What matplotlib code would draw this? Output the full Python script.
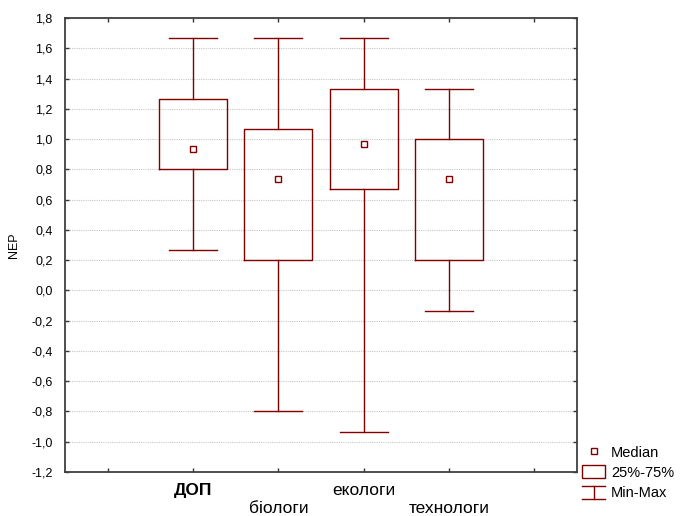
import numpy as np
import matplotlib as mpl
mpl.use('Agg')
import matplotlib.pyplot as plt
from matplotlib.lines import Line2D
from matplotlib.patches import Rectangle
from matplotlib.legend_handler import HandlerBase
from matplotlib.ticker import FuncFormatter, FixedLocator

plt.rcParams['font.family'] = ['Liberation Sans', 'DejaVu Sans']

# Data (NEP by group)
groups = ['ДОП', 'біологи', 'екологи', 'технологи']
positions = [2, 3, 4, 5]
q_min = [0.267, -0.800, -0.933, -0.133]
q1 = [0.800, 0.200, 0.667, 0.200]
median = [0.933, 0.733, 0.967, 0.733]
q3 = [1.267, 1.067, 1.333, 1.000]
q_max = [1.667, 1.667, 1.667, 1.333]

dark_red = '#800000'
lw = 1.0

fig = plt.figure(figsize=(6.8, 5.16), dpi=100)
ax = fig.add_axes([65 / 680, 1 - 472 / 516, 512 / 680, 454 / 516])

stats = []
for i in range(len(groups)):
    stats.append(dict(label=groups[i], med=median[i], q1=q1[i], q3=q3[i],
                      whislo=q_min[i], whishi=q_max[i], fliers=[]))

ax.bxp(stats, positions=positions, widths=0.8, capwidths=0.56,
       showfliers=False, manage_ticks=False,
       boxprops=dict(color=dark_red, linewidth=lw),
       whiskerprops=dict(color=dark_red, linewidth=lw),
       capprops=dict(color=dark_red, linewidth=lw),
       medianprops=dict(linewidth=0))
ax.plot(positions, median, linestyle='none', marker='s', markersize=4,
        markerfacecolor='white', markeredgecolor=dark_red, markeredgewidth=1.0)

# axes, ticks, grid
ax.set_xlim(0.5, 6.5)
ax.set_ylim(-1.2, 1.8)
ax.yaxis.set_major_locator(FixedLocator(np.arange(-1.2, 1.81, 0.2)))
ax.yaxis.set_major_formatter(FuncFormatter(lambda v, p: '{0:.1f}'.format(v).replace('.', ',').replace('-0,0', '0,0')))
ax.set_xticks([1, 2, 3, 4, 5, 6])
ax.set_xticklabels(['', groups[0], '\n' + groups[1], groups[2], '\n' + groups[3], ''],
                   fontsize=12.5, linespacing=1.2)
ax.get_xticklabels()[1].set_fontweight('bold')
ax.tick_params(axis='both', direction='in', length=3, width=1, color='#333333',
               top=True, right=True)
ax.tick_params(axis='y', labelsize=9, pad=9)
ax.tick_params(axis='x', pad=8)
ax.grid(axis='y', color='#c8c8c8', linestyle=(0, (1, 1)), linewidth=0.8)
ax.set_axisbelow(True)
for s in ax.spines.values():
    s.set_color('#404040')
    s.set_linewidth(1.3)
ax.set_ylabel('NEP', fontsize=9, labelpad=8)


# legend
class MinMaxHandler(HandlerBase):
    def create_artists(self, legend, orig_handle, xdescent, ydescent,
                       width, height, fontsize, trans):
        x0, x1 = -xdescent, -xdescent + width
        y0, y1 = -ydescent, -ydescent + height
        xm = (x0 + x1) / 2
        parts = [Line2D([x0, x1], [y1, y1]), Line2D([xm, xm], [y0, y1]),
                 Line2D([x0, x1], [y0, y0])]
        for p in parts:
            p.set_color(dark_red)
            p.set_linewidth(lw)
            p.set_transform(trans)
        return parts


h_med = Line2D([], [], linestyle='none', marker='s', markersize=4,
               markerfacecolor='white', markeredgecolor=dark_red, markeredgewidth=1.0)
h_box = Rectangle((0, 0), 1, 1, facecolor='white', edgecolor=dark_red, linewidth=lw)
h_mm = Line2D([], [])
fig.legend([h_med, h_box, h_mm], ['Median', '25%-75%', 'Min-Max'],
           handler_map={h_mm: MinMaxHandler()},
           loc='upper left', bbox_to_anchor=(582 / 680, 1 - 445 / 516),
           frameon=False, fontsize=10.5, handlelength=1.6, handleheight=1.0,
           handletextpad=0.4, labelspacing=0.4, borderpad=0, borderaxespad=0)

plt.savefig('out.png', dpi=100)
